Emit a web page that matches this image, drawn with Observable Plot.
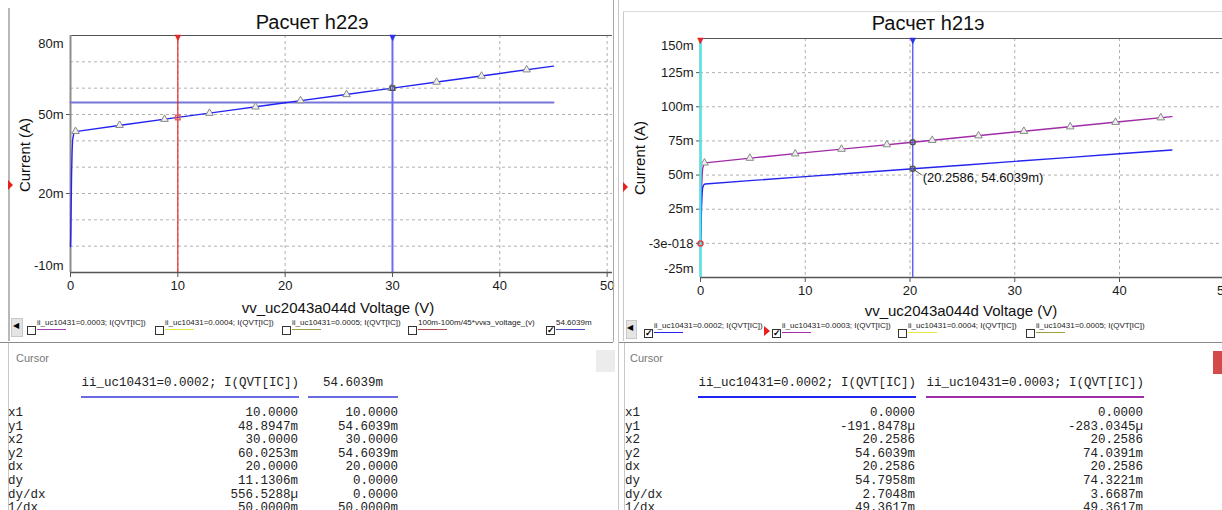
<!DOCTYPE html>
<html><head><meta charset="utf-8">
<script src="https://cdn.jsdelivr.net/npm/d3@7"></script>
<script src="https://cdn.jsdelivr.net/npm/@observablehq/plot@0.6"></script>
<style>
html,body{margin:0;padding:0}
body{width:1222px;height:510px;position:relative;overflow:hidden;background:#fff;font-family:"Liberation Sans",Arial,sans-serif;color:#111}
.a{position:absolute;white-space:nowrap;line-height:1}
.title{font-size:20px;transform:translate(-50%,-50%)}
.xl{font-size:15px;transform:translate(-50%,-50%)}
.yl{font-size:15px;transform:translate(-50%,-50%) rotate(-90deg)}
.lg{font-size:8px;color:#222;transform:translateY(-50%)}
.cb{width:7px;height:7px;border:1px solid #333;background:#fff;font-size:9px;line-height:7px;text-align:center;font-weight:bold;color:#000}
.mono{font-family:"Liberation Mono","Courier New",monospace;font-size:12.5px;color:#222;transform:translateY(-50%)}
.r{transform:translate(-100%,-50%)}
.cur{font-size:11px;color:#777;transform:translateY(-50%)}
.svgbox{position:absolute;top:0}
</style></head><body>
<script>
// ---------------- data ----------------
// x: vv_uc2043a044d Voltage (V); y: current in mA
const voltage = [0, 0.03, 0.06, 0.1, 0.15, 0.2, 0.3, 0.45, 5, 10, 15, 20, 20.2586, 25, 30, 35, 40, 45];
const ic0002 = [-0.19, 5, 15, 27, 36, 40.5, 42.7, 43.5, 46.1, 48.89, 51.68, 54.46, 54.60, 57.24, 60.03, 62.81, 65.59, 68.37];
const ic0003 = [-0.28, 8, 22, 38, 49, 54.5, 57.5, 58.9, 62.6, 66.4, 70.1, 73.9, 74.04, 77.7, 81.5, 85.2, 89.0, 92.8];

// triangle markers along the traces
const markLeftV = [0.47, 4.57, 8.76, 12.95, 17.24, 21.43, 25.72, 29.92, 34.11, 38.30, 42.5];
const markLeftI = [43.6, 45.9, 48.2, 50.5, 52.9, 55.3, 57.6, 60.0, 62.3, 64.6, 67.0];
const markRightV = [0.38, 4.71, 9.04, 13.46, 17.79, 22.12, 26.54, 30.87, 35.29, 39.62, 43.94];
const markRightI = [58.9, 62.4, 65.6, 69.0, 72.3, 75.5, 78.8, 82.1, 85.4, 88.7, 92.0];

// constant trace 54.6039m (left chart)
const hLineV = [0, 45];
const hLineI = [54.6039, 54.6039];

// cursors
const leftCursorX = [10, 30];
const leftCursorY = [48.8947, 60.0253];
const rightCursorX = [0, 20.2586];
const rightCursorY0002 = [-0.1918478, 54.6039];
const rightCursorY0003 = [-0.2830345, 74.0391];

// ticks
const xTicks = [0, 10, 20, 30, 40, 50];
const xGrid = [10, 20, 30, 40, 50];
const leftYGrid = [0, 10, 20, 30, 40, 50, 60, 70, 80];
const leftYTicks = [-10, 20, 50, 80];
const leftYLabels = ["-10m", "20m", "50m", "80m"];
const rightYGrid = [0, 25, 50, 75, 100, 125, 150];
const rightYTicks = [-25, 0, 25, 50, 75, 100, 125, 150];
const rightYLabels = ["-25m", "-3e-018", "25m", "50m", "75m", "100m", "125m", "150m"];

// texts
const titles = ["Расчет h22э", "Расчет h21э"];
const xLabel = "vv_uc2043a044d Voltage (V)";
const yLabel = "Current (A)";
const leftLegend = ["ii_uc10431=0.0003; I(QVT[IC])", "ii_uc10431=0.0004; I(QVT[IC])", "ii_uc10431=0.0005; I(QVT[IC])", "100m-100m/45*vvкэ_voltage_(v)", "54.6039m"];
const leftLegendChecked = [false, false, false, false, true];
const rightLegend = ["ii_uc10431=0.0002; I(QVT[IC])", "ii_uc10431=0.0003; I(QVT[IC])", "ii_uc10431=0.0004; I(QVT[IC])", "ii_uc10431=0.0005; I(QVT[IC])"];
const rightLegendChecked = [true, true, false, false];
const rowNames = ["x1", "y1", "x2", "y2", "dx", "dy", "dy/dx", "1/dx"];
const leftHeaders = ["ii_uc10431=0.0002; I(QVT[IC])", "54.6039m"];
const leftCol1 = ["10.0000", "48.8947m", "30.0000", "60.0253m", "20.0000", "11.1306m", "556.5288µ", "50.0000m"];
const leftCol2 = ["10.0000", "54.6039m", "30.0000", "54.6039m", "20.0000", "0.0000", "0.0000", "50.0000m"];
const rightHeaders = ["ii_uc10431=0.0002; I(QVT[IC])", "ii_uc10431=0.0003; I(QVT[IC])"];
const rightCol1 = ["0.0000", "-191.8478µ", "20.2586", "54.6039m", "20.2586", "54.7958m", "2.7048m", "49.3617m"];
const rightCol2 = ["0.0000", "-283.0345µ", "20.2586", "74.0391m", "20.2586", "74.3221m", "3.6687m", "49.3617m"];

// ---------------- helpers ----------------
function el(cls, css, text) {
  const d = document.createElement("div");
  d.className = "a " + (cls || "");
  d.style.cssText = css;
  if (text != null) d.textContent = text;
  document.body.appendChild(d);
  return d;
}
const zip = (xs, ys) => xs.map((x, i) => ({x, y: ys[i]}));
const styleObj = {fontFamily: '"Liberation Sans", Arial, sans-serif', fontSize: "13px", color: "#1a1a1a", background: "transparent", overflow: "visible"};
const gridStyle = {stroke: "#b0b0b0", strokeOpacity: 1, strokeDasharray: "3,3", strokeWidth: 1};
const BLUE = "#2424f0", PURPLE = "#a02ca8";

// ---------------- left chart ----------------
const lTickMid = leftYTicks.slice(1, -1);
const lblL = v => leftYLabels[leftYTicks.indexOf(v)];
const left = Plot.plot({
  width: 612, height: 300,
  marginLeft: 70, marginRight: 0, marginTop: 35, marginBottom: 28,
  x: {domain: [0, 50.5]},
  y: {domain: [-10, 80]},
  style: styleObj,
  marks: [
    Plot.gridY(leftYGrid, gridStyle),
    Plot.gridX(xGrid, gridStyle),
    Plot.axisX(xTicks, {tickSize: 5, tickPadding: 3, label: null, stroke: "#555"}),
    Plot.axisY(lTickMid, {tickSize: 4, tickPadding: 3, label: null, tickFormat: lblL, stroke: "#555"}),
    Plot.tickY([leftYTicks[0], leftYTicks[leftYTicks.length - 1]], {y: d => d, frameAnchor: "left", stroke: "#555"}),
    Plot.text([leftYTicks[leftYTicks.length - 1]], {y: d => d, frameAnchor: "left", dx: -7, dy: 8, textAnchor: "end", text: lblL}),
    Plot.text([leftYTicks[0]], {y: d => d, frameAnchor: "left", dx: -7, dy: -7, textAnchor: "end", text: lblL}),
    Plot.ruleY([-10], {stroke: "#555", strokeWidth: 1.5}),
    Plot.ruleX([0], {stroke: "#8c8c8c", strokeWidth: 2}),
    Plot.line(zip(hLineV, hLineI), {x: "x", y: "y", stroke: "#7676d8", strokeWidth: 2}),
    Plot.line(zip(voltage, ic0002), {x: "x", y: "y", stroke: BLUE, strokeWidth: 1.4}),
    Plot.dot(zip(markLeftV, markLeftI), {x: "x", y: "y", symbol: "triangle", r: 2.8, stroke: "#8a8a8a", fill: "#eeeeee", strokeWidth: 1}),
    Plot.ruleX([leftCursorX[0]], {stroke: "#e02828", strokeWidth: 1.2}),
    Plot.ruleX([leftCursorX[1]], {stroke: "#6d6df2", strokeWidth: 2}),
    Plot.text([leftCursorX[0]], {x: d => d, frameAnchor: "top", dy: -2, text: () => "▼", fill: "#e02828", fontSize: 11}),
    Plot.text([leftCursorX[1]], {x: d => d, frameAnchor: "top", dy: -2, text: () => "▼", fill: "#3030e8", fontSize: 11}),
    Plot.dot([zip(leftCursorX, leftCursorY)[0]], {x: "x", y: "y", symbol: "square", r: 2.5, stroke: "#e06060", fill: "none"}),
    Plot.dot([zip(leftCursorX, leftCursorY)[1]], {x: "x", y: "y", symbol: "square", r: 2.5, stroke: "#555", fill: "none"})
  ]
});
left.style.position = "absolute"; left.style.left = "0px"; left.style.top = "0px";
document.body.appendChild(left);

// ---------------- right chart ----------------
const rTickMid = rightYTicks.slice(1, -1);
const lblR = v => rightYLabels[rightYTicks.indexOf(v)];
const c2 = rightCursorX[1], c2y = rightCursorY0002[1];
const right = Plot.plot({
  width: 607, height: 300,
  marginLeft: 85, marginRight: 0, marginTop: 38, marginBottom: 23,
  x: {domain: [0, 49.83]},
  y: {domain: [-25, 150]},
  style: styleObj,
  marks: [
    Plot.gridY(rightYGrid, gridStyle),
    Plot.gridX(xGrid, gridStyle),
    Plot.axisX(xTicks, {tickSize: 5, tickPadding: 3, label: null, stroke: "#555"}),
    Plot.axisY(rTickMid, {tickSize: 4, tickPadding: 3, label: null, tickFormat: lblR, stroke: "#555"}),
    Plot.tickY([rightYTicks[0], rightYTicks[rightYTicks.length - 1]], {y: d => d, frameAnchor: "left", stroke: "#555"}),
    Plot.text([rightYTicks[rightYTicks.length - 1]], {y: d => d, frameAnchor: "left", dx: -7, dy: 7, textAnchor: "end", text: lblR}),
    Plot.text([rightYTicks[0]], {y: d => d, frameAnchor: "left", dx: -7, dy: -9, textAnchor: "end", text: lblR}),
    Plot.ruleY([-25], {stroke: "#555", strokeWidth: 1.5}),
    Plot.ruleX([0], {stroke: "#8c8c8c", strokeWidth: 2}),
    Plot.line(zip(voltage, ic0003), {x: "x", y: "y", stroke: PURPLE, strokeWidth: 1.4}),
    Plot.dot(zip(markRightV, markRightI), {x: "x", y: "y", symbol: "triangle", r: 2.8, stroke: "#8a8a8a", fill: "#eeeeee", strokeWidth: 1}),
    Plot.line(zip(voltage, ic0002), {x: "x", y: "y", stroke: BLUE, strokeWidth: 1.4}),
    Plot.ruleX([rightCursorX[0]], {stroke: "#48eeee", strokeWidth: 2}),
    Plot.ruleX([rightCursorX[1]], {stroke: "#6262f0", strokeWidth: 1.5}),
    Plot.text([rightCursorX[0]], {x: d => d, frameAnchor: "top", dy: -2, text: () => "▼", fill: "#e02828", fontSize: 11}),
    Plot.text([rightCursorX[1]], {x: d => d, frameAnchor: "top", dy: -2, text: () => "▼", fill: "#3030e8", fontSize: 11}),
    Plot.dot([{x: rightCursorX[0], y: rightCursorY0002[0]}], {x: "x", y: "y", r: 2.5, stroke: "#e04040", fill: "none"}),
    Plot.dot([{x: c2, y: c2y}, {x: c2, y: rightCursorY0003[1]}], {x: "x", y: "y", r: 2.5, stroke: "#555", fill: "none"}),
    Plot.link([{x: c2, y: c2y}], {x1: "x", y1: "y", x2: d => d.x + 0.85, y2: d => d.y - 4.5, stroke: "#555", strokeWidth: 1}),
    Plot.text([{x: c2, y: c2y}], {x: "x", y: "y", dx: 10, dy: 9, textAnchor: "start", text: d => `(${d.x.toFixed(4)}, ${d.y.toFixed(4)}m)`, fill: "#111"})
  ]
});
right.style.position = "absolute"; right.style.left = "615px"; right.style.top = "0px";
document.body.appendChild(right);

// ---------------- frame decoration ----------------
el("", "left:8px;top:8px;width:2px;height:333px;background:#b8b8b8");
el("", "left:613px;top:0;width:1px;height:342px;background:#a8a8a8");
el("", "left:618px;top:0;width:1px;height:510px;background:#c8c8c8");
el("", "left:623px;top:11px;width:1px;height:330px;background:#c8c8c8");
el("", "left:623px;top:11px;width:599px;height:1px;background:#dcdcdc");
el("", "left:8px;top:180px;width:0;height:0;border-top:5px solid transparent;border-bottom:5px solid transparent;border-left:5px solid #e82020");
el("", "left:623px;top:182px;width:0;height:0;border-top:5px solid transparent;border-bottom:5px solid transparent;border-left:5px solid #e82020");
el("", "left:0;top:342px;width:613px;height:1px;background:#8a8a8a");
el("", "left:619px;top:342px;width:603px;height:1px;background:#8a8a8a");
el("", "left:8px;top:343px;width:1px;height:167px;background:#c8c8c8");
el("", "left:624px;top:343px;width:1px;height:167px;background:#c8c8c8");

// titles and axis labels
el("title", "left:312px;top:22px", titles[0]);
el("title", "left:928px;top:23px", titles[1]);
el("xl", "left:338px;top:307px", xLabel);
el("xl", "left:961px;top:310px", xLabel);
el("yl", "left:24px;top:155px", yLabel);
el("yl", "left:639px;top:158px", yLabel);

// legends
const legendColorsL = ["#a040b0", "#e8e840", "#a0a040", "#b04848", "#5050c0"];
const legendXL = [27, 155, 282, 408, 546];
const legendColorsR = [BLUE, PURPLE, "#e8e840", "#a0a040"];
const legendXR = [644, 772, 898, 1026];
function legendRow(items, checked, colors, xs, y) {
  items.forEach((t, i) => {
    el("cb", `left:${xs[i]}px;top:${y + 2}px`, checked[i] ? "✓" : "");
    el("lg", `left:${xs[i] + 10}px;top:${y - 1}px`, t);
    el("", `left:${xs[i] + 10}px;top:${y + 5}px;width:29px;height:1px;background:${colors[i]}`);
  });
}
el("", "left:11px;top:318px;width:10px;height:17px;background:#e4e4e4;border:1px solid #c8c8c8");
el("", "left:13px;top:322px;font-size:8px;color:#000", "◀");
el("", "left:626px;top:320px;width:9px;height:17px;background:#e4e4e4;border:1px solid #c8c8c8");
el("", "left:627px;top:324px;font-size:8px;color:#000", "◀");
legendRow(leftLegend, leftLegendChecked, legendColorsL, legendXL, 324);
legendRow(rightLegend, rightLegendChecked, legendColorsR, legendXR, 327);
el("", "left:764px;top:326px;width:0;height:0;border-top:5px solid transparent;border-bottom:5px solid transparent;border-left:6px solid #e82020");

// cursor tables
el("cur", "left:16px;top:358px", "Cursor");
el("cur", "left:630px;top:358px", "Cursor");
el("", "left:596px;top:350px;width:19px;height:22px;background:#ececec");
el("", "left:1213px;top:351px;width:9px;height:23px;background:#d24a4a");
const rowY0 = 413, rowStep = 13.6;
function table(labelX, headers, hdrSpans, ulColors, cols, colRight, hdrCenter) {
  headers.forEach((h, j) => {
    const [x0, x1] = hdrSpans[j];
    if (hdrCenter[j]) el("mono", `left:${(x0 + x1) / 2}px;top:383px;transform:translate(-50%,-50%)`, h);
    else el("mono r", `left:${x1}px;top:383px`, h);
    el("", `left:${x0}px;top:396px;width:${x1 - x0}px;height:1.5px;background:${ulColors[j]}`);
  });
  rowNames.forEach((n, i) => {
    const y = rowY0 + i * rowStep;
    el("mono", `left:${labelX}px;top:${y}px`, n);
    cols.forEach((c, j) => el("mono r", `left:${colRight[j]}px;top:${y}px`, c[i]));
  });
}
table(8, leftHeaders, [[81, 299], [308, 398]], ["#6a6ae4", "#6a6ae4"], [leftCol1, leftCol2], [298, 398], [false, true]);
table(625, rightHeaders, [[698, 916], [926, 1144]], [BLUE, PURPLE], [rightCol1, rightCol2], [915, 1143], [false, false]);
</script>
</body></html>
